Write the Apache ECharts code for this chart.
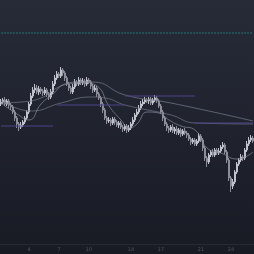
<!DOCTYPE html>
<html>
<head>
<meta charset="UTF-8" />
<script type="text/javascript" src="https://cdn.jsdelivr.net/npm/echarts@6/dist/echarts.min.js"></script>
<style>
  html, body { margin: 0; padding: 0; }
  body { background: linear-gradient(#272b38, #181b24); }
  #chartmain { width: 254px; height: 254px; }
</style>
</head>
<body>
<div id="chartmain"></div>
<script type="text/javascript">
// candle values (price points), one entry per bar
var opens = [140,142,144,140,143,139,137,132,126,120,117,119,122,126,132,140,148,154,156,152,
  155,153,151,154,150,147,152,160,166,170,168,174,171,166,160,156,152,157,162,160,
  164,161,163,160,164,162,158,154,156,150,146,140,134,126,123,124,121,125,122,119,
  121,117,115,118,114,116,120,124,129,132,136,140,142,144,143,145,141,144,146,143,
  138,132,126,120,116,114,117,113,115,111,114,110,113,111,109,105,102,104,100,103,
  108,104,96,86,82,89,92,89,94,91,93,97,99,92,84,66,58,62,72,80,
  84,87,86,94,100,104,106];
var closes = [142,144,140,143,139,137,132,126,120,117,119,122,126,132,140,148,154,156,152,155,
  153,151,154,150,147,152,160,166,170,168,174,171,166,160,156,152,157,162,160,164,
  161,163,160,164,162,158,154,156,150,146,140,134,126,123,124,121,125,122,119,121,
  117,115,118,114,116,120,124,129,132,136,140,142,144,143,145,141,144,146,143,138,
  132,126,120,116,114,117,113,115,111,114,110,113,111,109,105,102,104,100,103,108,
  104,96,86,82,89,92,89,94,91,93,97,99,92,84,66,58,62,72,80,84,
  87,86,94,100,104,106,103];
var lows = [138,140,138,138,136,134,130,123,116,113,115,117,120,124,130,138,146,151,150,149,
  150,148,149,147,144,145,150,158,164,166,166,168,163,158,153,150,150,155,158,158,
  159,159,157,158,160,155,151,152,147,144,137,131,124,120,121,118,119,119,117,116,
  115,112,113,111,112,114,118,122,127,130,134,138,140,141,140,139,139,142,141,136,
  130,123,118,113,111,112,111,110,109,109,107,108,109,106,103,99,100,98,98,101,
  102,93,83,77,80,87,87,87,89,89,91,95,90,81,63,52,55,60,70,78,
  82,83,84,92,98,102,101];
var highs = [145,146,147,145,145,141,139,134,128,122,122,124,128,134,142,151,157,160,159,158,
  157,155,157,156,152,155,163,169,173,172,177,176,173,168,162,158,160,165,164,167,
  166,166,165,167,166,164,160,159,158,152,148,142,136,128,127,126,127,127,124,123,
  123,119,120,120,119,122,127,131,135,139,143,145,147,146,147,147,146,149,148,145,
  140,134,128,122,118,119,120,117,118,116,116,115,116,113,111,107,106,106,105,111,
  110,106,98,88,91,94,95,96,96,96,99,102,101,94,86,68,65,74,82,86,
  90,89,96,103,107,109,108];

var maSlowAt = {0:144, 15:133, 30:141, 45:147, 52:146, 62:139, 85:129, 97:121, 126:120};
var maMidAt = {0:141, 10:142, 20:146, 30:158, 38:161, 46:162, 62:149, 85:141, 126:123};
var maFastAt = {0:141, 8:130, 14:124, 20:140, 26:150, 32:160, 40:162, 48:158, 54:138, 60:124,
  64:116, 68:120, 73:132, 79:131, 84:124, 90:118, 97:114, 103:96, 110:91, 118:85, 126:92};

// horizontal levels
var alertLevel = 211;
var levelSegs = [
  { from: 0, to: 26, value: 118 },
  { from: 28, to: 62, value: 139 },
  { from: 62, to: 97, value: 148 },
  { from: 97, to: 126, value: 121 }
];

// x axis day labels and the bar they sit under
var labelIndex = [14, 29, 44, 65, 80, 100, 115];
var dayLabels = ['4', '7', '10', '14', '17', '21', '24'];

var categories = closes.map(function (v, i) { return i; });
var candleData = closes.map(function (c, i) { return [opens[i], c, lows[i], highs[i]]; });

function sparse(obj) {
  return categories.map(function (i) { return obj[i] !== undefined ? obj[i] : null; });
}
function maSeries(obj, color) {
  return {
    type: 'line', data: sparse(obj), connectNulls: true, smooth: true,
    symbol: 'none', silent: true,
    lineStyle: { color: color, width: 1 }
  };
}

var series = [
  {
    type: 'line',
    data: categories.map(function () { return alertLevel; }),
    symbol: 'none', silent: true,
    lineStyle: { color: '#1f7475', width: 1, type: [2, 1] }
  },
  maSeries(maSlowAt, 'rgba(115,120,136,0.7)'),
  maSeries(maMidAt, 'rgba(120,125,140,0.7)'),
  maSeries(maFastAt, 'rgba(135,140,155,0.7)')
];
levelSegs.forEach(function (s) {
  series.push({
    type: 'line',
    data: categories.map(function (i) { return (i >= s.from && i <= s.to) ? s.value : null; }),
    symbol: 'none', silent: true,
    lineStyle: { color: '#4c4389', width: 1 }
  });
});
series.push({
  type: 'candlestick',
  data: candleData,
  barWidth: '70%',
  itemStyle: {
    color: '#bfc2cb', color0: '#8b8e99',
    borderColor: '#bfc2cb', borderColor0: '#8b8e99', borderWidth: 1
  }
});

var option = {
  animation: false,
  backgroundColor: 'transparent',
  grid: { left: 0, right: 0, top: 0, bottom: 10 },
  xAxis: {
    type: 'category',
    data: categories,
    axisLine: { show: true, lineStyle: { color: '#262a35' } },
    axisTick: { show: false },
    splitLine: { show: false },
    axisLabel: {
      interval: function (i) { return labelIndex.indexOf(i) >= 0; },
      formatter: function (v, i) {
        var k = labelIndex.indexOf(i);
        return k >= 0 ? dayLabels[k] : '';
      },
      color: '#4f5360', fontSize: 5, margin: 3, fontFamily: 'DejaVu Sans'
    }
  },
  yAxis: {
    type: 'value', min: 0, max: 244, show: false,
    splitLine: { show: false }
  },
  series: series
};

var myChart = echarts.init(document.getElementById('chartmain'));
myChart.setOption(option);
</script>
</body>
</html>
